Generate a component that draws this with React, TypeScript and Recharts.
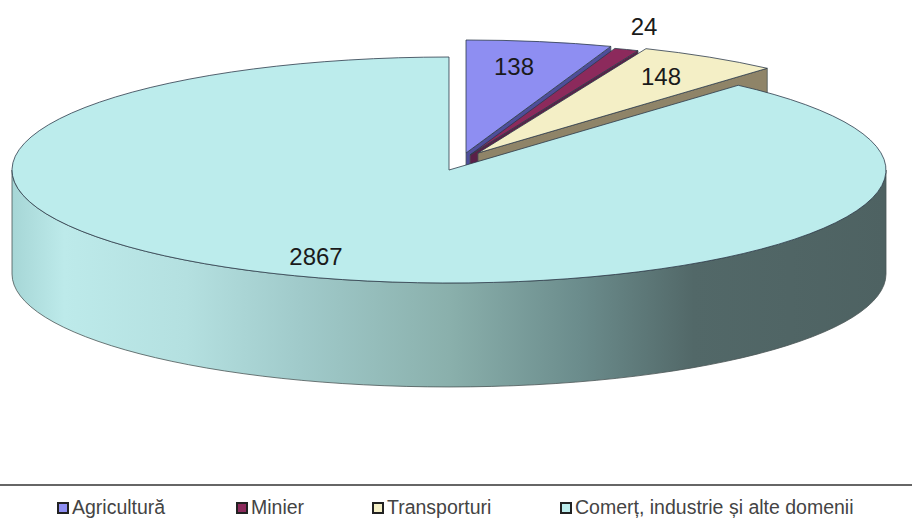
import React from 'react'
import { PieChart, Pie, Legend } from 'recharts'

const categories = ['Agricultură', 'Minier', 'Transporturi', 'Comerț, industrie și alte domenii']
const values = [138, 24, 148, 2867]

const topColors = ['#8E8EF2', '#8C2A5C', '#F4EFC6', '#BCECEC']
const wallColors = ['#4E4E9A', '#5A2048', '#8F8468', 'url(#wallGradient)']
// how far each wedge is pulled out of the pie, in pixels
const explode = [[17, -17], [21, -15], [29, -17], [0, 0]]
const labelAt = [[514, 66], [644, 26], [661, 76], [316, 256]]
const legendAt = [57, 236, 372, 560]

const CX = 449
const CY = 170
const RX = 437
const RY = 113
const DEPTH = 104
// perspective squeezes the back of the pie, so the angles are stretched there
const WARP = 1.255

const table = categories.map((name, i) => ({ name, value: values[i], fill: topColors[i] }))

// recharts angle -> point on the tilted ellipse
function warped(angle: number) {
  const a = ((90 - angle) * Math.PI) / 180
  return Math.atan2(WARP * Math.sin(a), Math.cos(a))
}

function Wedge(props: any) {
  const { startAngle, endAngle, fill, index } = props
  const [ox, oy] = explode[index]
  const cx = CX + ox
  const cy = CY + oy
  let t0 = warped(startAngle)
  let t1 = warped(endAngle)
  if (t1 <= t0) t1 += Math.PI * 2
  const x0 = cx + RX * Math.sin(t0)
  const y0 = cy - RY * Math.cos(t0)
  const x1 = cx + RX * Math.sin(t1)
  const y1 = cy - RY * Math.cos(t1)
  const large = t1 - t0 > Math.PI ? 1 : 0
  const top = `M${cx},${cy} L${x0},${y0} A${RX},${RY} 0 ${large} 1 ${x1},${y1} Z`
  const wall =
    index === 3
      ? `M${cx - RX},${cy} A${RX},${RY} 0 0 0 ${cx + RX},${cy} L${cx + RX},${cy + DEPTH} A${RX},${RY} 0 0 1 ${cx - RX},${cy + DEPTH} Z`
      : `M${cx},${cy} L${x1},${y1} L${x1},${y1 + DEPTH} L${cx},${cy + DEPTH} Z`
  return (
    <g>
      <path d={wall} fill={wallColors[index]} stroke="#4a5656" strokeWidth={0.8} />
      <path d={top} fill={fill} stroke="#2c3a4a" strokeWidth={0.8} strokeLinejoin="round" />
    </g>
  )
}

function sliceLabel(props: any) {
  const [x, y] = labelAt[props.index]
  return (
    <text x={x} y={y} textAnchor="middle" dominantBaseline="central" fontFamily="Liberation Sans" fontSize={24} fill="#1a1a1a">
      {values[props.index]}
    </text>
  )
}

function LegendRow(props: any) {
  return (
    <div style={{ position: 'relative', height: 38, borderTop: '2px solid #666', fontFamily: 'Liberation Sans', fontSize: 19.5, color: '#444' }}>
      {props.payload.map((entry: any, i: number) => (
        <div key={entry.value} style={{ position: 'absolute', left: legendAt[i], top: 10, display: 'flex', alignItems: 'center', whiteSpace: 'nowrap' }}>
          <span style={{ width: 8, height: 8, marginRight: 3, border: '2px solid #222', background: topColors[i] }} />
          {entry.value}
        </div>
      ))}
    </div>
  )
}

export default function App() {
  return (
    <div style={{ position: 'absolute', left: 0, top: 0 }}>
      <PieChart width={912} height={524} margin={{ top: 0, right: 0, bottom: 0, left: 0 }}>
        <defs>
          <linearGradient id="wallGradient" gradientUnits="userSpaceOnUse" x1={12} y1={0} x2={886} y2={0}>
            <stop offset="0" stopColor="#A6D6D6" />
            <stop offset="0.06" stopColor="#BDEAEA" />
            <stop offset="0.2" stopColor="#B4E0E0" />
            <stop offset="0.33" stopColor="#A0CACA" />
            <stop offset="0.5" stopColor="#8AB0AC" />
            <stop offset="0.65" stopColor="#6B8C8C" />
            <stop offset="0.78" stopColor="#526868" />
            <stop offset="1" stopColor="#4E6262" />
          </linearGradient>
        </defs>
        <Pie
          data={table}
          dataKey="value"
          nameKey="name"
          cx={CX}
          cy={CY}
          outerRadius={RX}
          startAngle={90}
          endAngle={-270}
          stroke="none"
          shape={Wedge}
          label={sliceLabel}
          labelLine={false}
          isAnimationActive={false}
        />
        <Legend itemSorter={null} content={LegendRow} wrapperStyle={{ position: 'absolute', left: 0, top: 484, width: 912, bottom: 'auto' }} />
      </PieChart>
    </div>
  )
}
